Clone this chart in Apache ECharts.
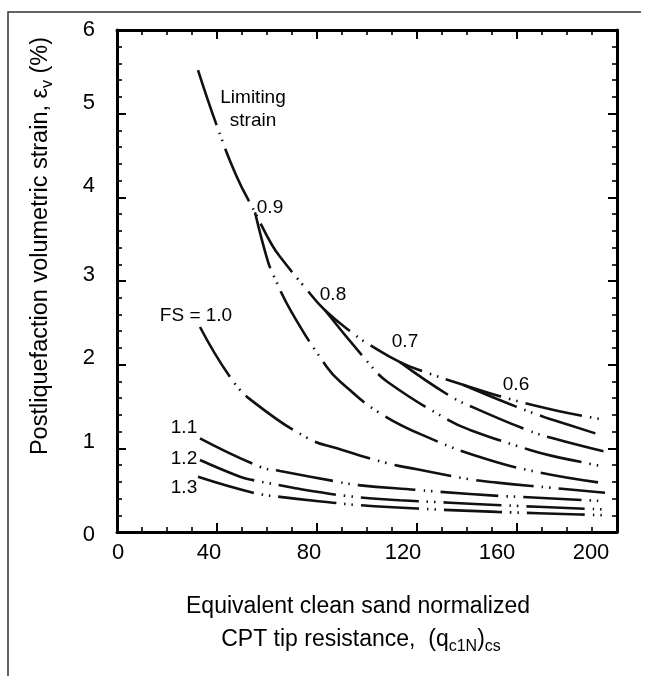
<!DOCTYPE html>
<html><head><meta charset="utf-8">
<script src="https://cdn.jsdelivr.net/npm/echarts@6/dist/echarts.min.js"></script>
<style>html,body{margin:0;padding:0;background:#fff}#c{width:649px;height:684px}</style>
</head><body><div id="c"></div>
<script>
// ---- data ----
const xTicks = [0, 40, 80, 120, 160, 200];
const yTicks = [0, 1, 2, 3, 4, 5, 6];

const limitingStrain = [[32.4,5.52],[40,4.85],[48,4.24],[55.2,3.82],[62,3.43],[66,3.26],[75,2.93],[83.2,2.65],[95,2.36],[100.4,2.25],[113.2,2.03],[122.4,1.92],[138.4,1.76],[157,1.59],[176,1.45],[195.2,1.34]];
const fs06 = [[138.4,1.76],[157,1.53],[171.2,1.37],[176.4,1.32],[194.4,1.15]];
const fs07 = [[113.2,2.03],[132.4,1.64],[143.2,1.48],[164,1.22],[174.4,1.12],[195.2,0.96]];
const fs08 = [[83.2,2.65],[101.2,2.0],[108.4,1.79],[132.4,1.34],[141.2,1.22],[165.2,0.98],[174,0.91],[195.2,0.78]];
const fs09 = [[55.2,3.82],[60,3.27],[62.4,3.08],[70,2.62],[84,1.97],[89.2,1.80],[105.2,1.42],[126,1.11],[148,0.87],[169.2,0.71],[193.2,0.59]];
const fs10 = [[33.2,2.45],[46,1.82],[55.2,1.54],[76.4,1.12],[88,1.0],[108.4,0.82],[120,0.75],[141.2,0.63],[152,0.59],[173.2,0.53],[195.2,0.47]];
const fs11 = [[33.2,1.12],[57.2,0.78],[65.2,0.73],[88.4,0.60],[96.4,0.56],[121.2,0.50],[129.2,0.48],[153.2,0.43],[161.2,0.42],[194.4,0.37]];
const fs12 = [[33.2,0.86],[49.2,0.66],[54.4,0.62],[70.4,0.53],[76,0.50],[92,0.43],[113.2,0.38],[133.2,0.35],[161.2,0.31],[194.4,0.27]];
const fs13 = [[32.4,0.66],[54.4,0.47],[65.2,0.42],[86.4,0.35],[97.2,0.32],[120,0.28],[152,0.24],[185.2,0.21],[194.4,0.20]];

const curveLabels = [[54.4,5.05,'Limiting\nstrain'],[61.2,3.88,'0.9'],[86.4,2.83,'0.8'],[115.2,2.27,'0.7'],[159.6,1.76,'0.6'],[31.6,2.59,'FS = 1.0'],[26.8,1.24,'1.1'],[26.8,0.88,'1.2'],[26.8,0.53,'1.3']];

// ---- styling ----
const FONT = '"Liberation Sans", Arial, Helvetica, sans-serif';
const ink = '#000';
const xLabelShift = {0:1, 40:-8, 80:-8, 120:-14, 160:-20, 200:-26};
const yLabelShift = {0:3, 1:-6, 2:-7, 3:-6, 4:-11, 5:-11, 6:0};
const xRich = {}, yRich = {};
xTicks.forEach(v => { const d = xLabelShift[v] || 0;
  xRich['x' + v] = {fontSize:22, fontFamily:FONT, color:ink, padding:[0, d < 0 ? -2*d : 0, 0, d > 0 ? 2*d : 0]}; });
yTicks.forEach(v => { const d = yLabelShift[v] || 0;
  yRich['y' + v] = {fontSize:22, fontFamily:FONT, color:ink, padding:[d > 0 ? 2*d : 0, 0, d < 0 ? -2*d : 0, 0]}; });

function axisBase(extra) {
  return Object.assign({
    type: 'value',
    axisLine: {show: true, onZero: false, lineStyle: {color: ink, width: 3}},
    axisTick: {show: true, inside: true, length: 9, lineStyle: {color: ink, width: 2}},
    splitLine: {show: false},
    minorSplitLine: {show: false}
  }, extra);
}
const xCommon = {min: 0, max: 200, interval: 40};
const yCommon = {min: 0, max: 6, interval: 1};
const xMinor = {show: true, splitNumber: 4, length: 5, lineStyle: {color: ink, width: 1.6}};
const yMinor = {show: true, splitNumber: 5, length: 5, lineStyle: {color: ink, width: 1.6}};

const dash = [58, 8, 1.5, 6, 1.5, 8];
function curve(name, data) {
  return {
    name, type: 'line', data, symbol: 'none', showSymbol: false,
    smooth: 0.45, silent: true,
    lineStyle: {color: '#111', width: 2.6, type: dash, cap: 'butt'},
    z: 3
  };
}

const chart = echarts.init(document.getElementById('c'), null, {renderer: 'canvas'});
chart.setOption({
  animation: false,
  backgroundColor: '#fff',
  grid: {left: 117, right: 32, top: 30, bottom: 152},
  xAxis: [
    axisBase(Object.assign({}, xCommon, {position: 'bottom', minorTick: xMinor,
      axisLabel: {margin: 10, formatter: v => '{x' + v + '|' + v + '}', rich: xRich}})),
    axisBase(Object.assign({}, xCommon, {position: 'top', minorTick: xMinor, axisLabel: {show: false}}))
  ],
  yAxis: [
    axisBase(Object.assign({}, yCommon, {position: 'left', minorTick: yMinor,
      axisLabel: {margin: 22, formatter: v => '{y' + v + '|' + v + '}', rich: yRich}})),
    axisBase(Object.assign({}, yCommon, {position: 'right', minorTick: yMinor, axisLabel: {show: false}}))
  ],
  series: [
    curve('Limiting strain', limitingStrain),
    curve('FS 0.6', fs06), curve('FS 0.7', fs07), curve('FS 0.8', fs08), curve('FS 0.9', fs09),
    curve('FS 1.0', fs10), curve('FS 1.1', fs11), curve('FS 1.2', fs12), curve('FS 1.3', fs13),
    {
      name: 'labels', type: 'scatter', silent: true, symbolSize: 1,
      itemStyle: {color: 'rgba(0,0,0,0)'},
      data: curveLabels.map(d => ({value: [d[0], d[1]], name: d[2]})),
      label: {show: true, position: 'inside', formatter: p => p.name,
        fontSize: 19, lineHeight: 23, fontFamily: FONT, color: '#000', align: 'center',
        textBorderWidth: 0, textBorderColor: 'transparent', opacity: 1},
      z: 4
    }
  ],
  graphic: [
    {type: 'polyline', shape: {points: [[8, 676], [8, 12], [641, 12]]},
     style: {stroke: '#333', lineWidth: 1.5, fill: null}, silent: true},
    {type: 'text', x: 358, y: 607, silent: true,
     style: {text: 'Equivalent clean sand normalized', fontSize: 23, fontFamily: FONT, fill: ink,
             textAlign: 'center', textVerticalAlign: 'middle', align: 'center', verticalAlign: 'middle'}},
    {type: 'text', x: 361, y: 640, silent: true,
     style: {text: 'CPT tip resistance,  (q{s|c1N}){s|cs}', fontSize: 23, fontFamily: FONT, fill: ink, lineHeight: 30,
             textAlign: 'center', textVerticalAlign: 'middle', align: 'center', verticalAlign: 'middle',
             rich: {s: {fontSize: 16, fontFamily: FONT, fill: ink, lineHeight: 16, verticalAlign: 'bottom'}}}},
    {type: 'text', x: 41, y: 246, rotation: Math.PI / 2, silent: true,
     style: {text: 'Postliquefaction volumetric strain, ε{s|v} (%)', fontSize: 23.5, fontFamily: FONT, fill: ink, lineHeight: 30,
             textAlign: 'center', textVerticalAlign: 'middle', align: 'center', verticalAlign: 'middle',
             rich: {s: {fontSize: 16, fontFamily: FONT, fill: ink, lineHeight: 16, verticalAlign: 'bottom'}}}}
  ]
});
</script>
</body></html>
